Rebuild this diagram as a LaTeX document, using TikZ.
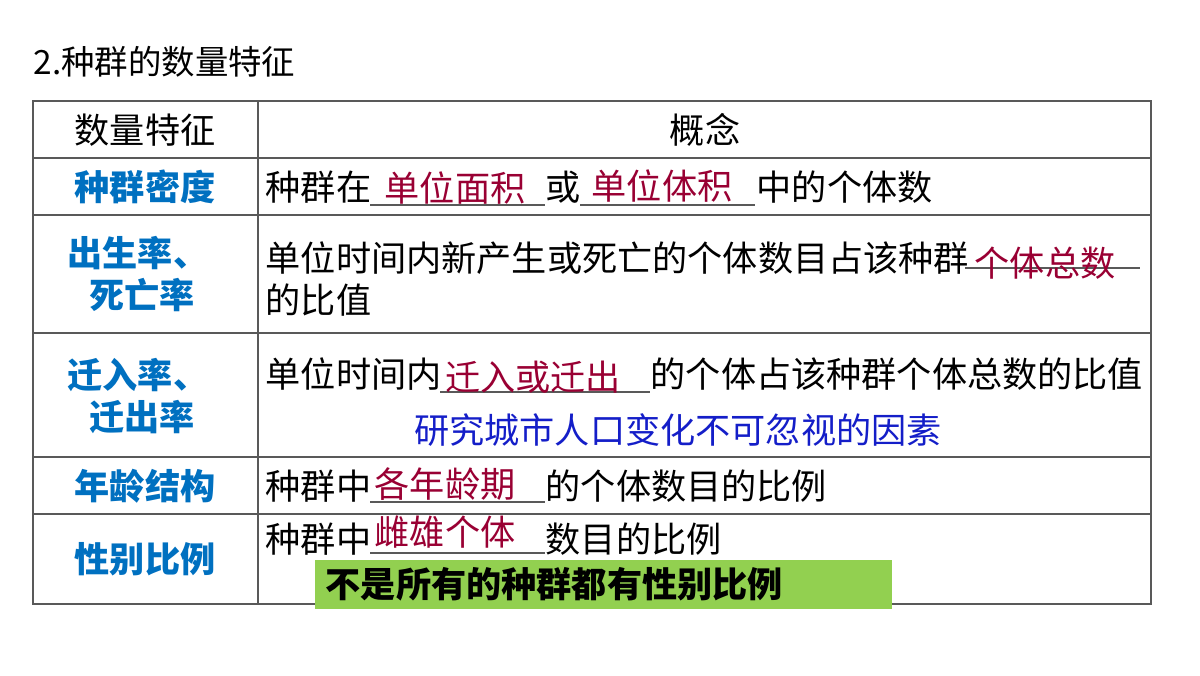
\documentclass[tikz,border=0pt]{standalone}
\usepackage{fontspec}
\setmainfont{Noto Sans CJK SC}
\definecolor{keyblue}{RGB}{0,112,192}
\definecolor{ansred}{RGB}{153,0,51}
\definecolor{noteblue}{RGB}{20,30,200}
\definecolor{notegreen}{RGB}{146,208,80}
\tikzset{
  key/.style={font=\fontsize{10}{12}\selectfont\bfseries,text=keyblue,align=center},
  body/.style={font=\fontsize{10}{12}\selectfont,anchor=west,inner sep=0pt},
  ans/.style={font=\fontsize{10}{12}\selectfont,text=ansred,inner sep=0pt},
  blank/.style={gray!70!black,thin}
}
\begin{document}
\begin{tikzpicture}[x=0.01cm,y=-0.01cm]
    \useasboundingbox (0,0) rectangle (1200,675);
    \node[body,font=\fontsize{9.5}{12}\selectfont] (title) at (33,62) {2.种群的数量特征};
    % table grid
    \draw[gray!70!black] (33,101) rectangle (1151,604);
    \draw[gray!70!black] (258,101) -- (258,604);
    \foreach \y in {158,215,333,457,514}
        \draw[gray!70!black] (33,\y) -- (1151,\y);
    % header
    \node[font=\fontsize{10}{12}\selectfont] (h1) at (145,130) {数量特征};
    \node[font=\fontsize{10}{12}\selectfont] (h2) at (705,130) {概念};
    % left column
    \node[key] (k1) at (145,187) {种群密度};
    \node[key] (k2) at (138,274) {出生率、\\\ 死亡率};
    \node[key] (k3) at (138,396) {迁入率、\\\ 迁出率};
    \node[key] (k4) at (145,486) {年龄结构};
    \node[key] (k5) at (145,559) {性别比例};
    % row 1
    \node[body] (r1a) at (265,187) {种群在};
    \node[body] (r1b) at (545,187) {或};
    \node[body] (r1c) at (756,187) {中的个体数};
    \draw[blank] (370,205) -- (545,205) (580,205) -- (755,205);
    \node[ans] (a1) at (455,188) {单位面积};
    \node[ans] (a2) at (662,186) {单位体积};
    % row 2
    \node[body] (r2a) at (265,258) {单位时间内新产生或死亡的个体数目占该种群};
    \node[body] (r2b) at (265,300) {的比值};
    \draw[blank] (965,268) -- (1140,268);
    \node[ans] (a3) at (1045,263) {个体总数};
    % row 3
    \node[body] (r3a) at (265,374) {单位时间内};
    \node[body] (r3b) at (650,374) {的个体占该种群个体总数的比值};
    \draw[blank] (440,392) -- (650,392);
    \node[ans] (a4) at (533,377) {迁入或迁出};
    \node[font=\fontsize{10}{12}\selectfont,text=noteblue] (n1) at (678,430) {研究城市人口变化不可忽视的因素};
    % row 4
    \node[body] (r4a) at (265,486) {种群中};
    \node[body] (r4b) at (545,486) {的个体数目的比例};
    \draw[blank] (370,502) -- (545,502);
    \node[ans] (a5) at (445,484) {各年龄期};
    % row 5
    \node[body] (r5a) at (265,539) {种群中};
    \node[body] (r5b) at (545,539) {数目的比例};
    \draw[blank] (370,553) -- (545,553);
    \node[ans] (a6) at (445,532) {雌雄个体};
    \fill[notegreen] (315,560) rectangle (892,609);
    \node[body,font=\fontsize{10}{12}\selectfont\bfseries] (n2) at (325,584) {不是所有的种群都有性别比例};
\end{tikzpicture}
\end{document}
